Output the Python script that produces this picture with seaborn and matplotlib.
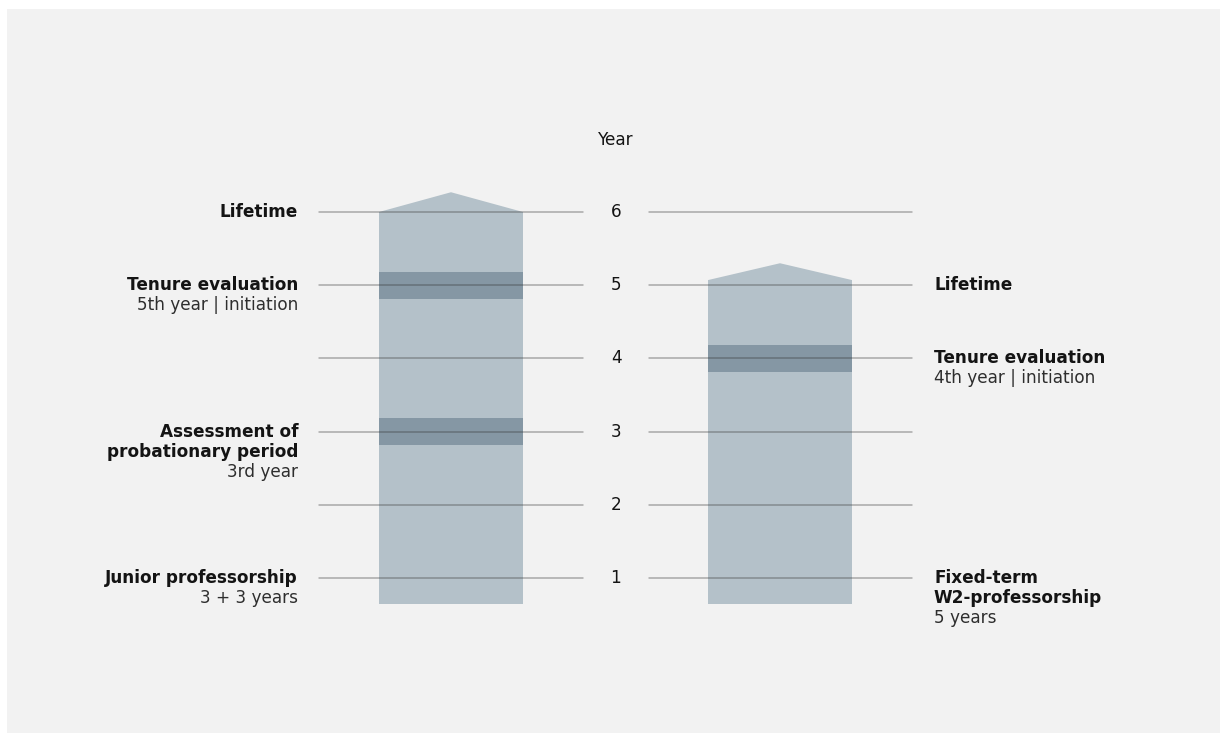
import numpy as np
import matplotlib
matplotlib.use('Agg')
import matplotlib.pyplot as plt
import matplotlib.patches as mpatches
import seaborn as sns

# --- data ---
years = [1, 2, 3, 4, 5, 6]
bar_start = [0.65, 0.65]          # both tracks begin just below year 1
bar_end = [6.0, 5.07]             # top of the rectangular part
cap_peak = [6.27, 5.30]           # tip of the arrow cap
eval_years_left = [5, 3]
eval_years_right = [4]
band_half = 0.185

left_labels = [
    (6, ['Lifetime'], []),
    (5, ['Tenure evaluation'], ['5th year | initiation']),
    (3, ['Assessment of', 'probationary period'], ['3rd year']),
    (1, ['Junior professorship'], ['3 + 3 years']),
]
right_labels = [
    (5, ['Lifetime'], []),
    (4, ['Tenure evaluation'], ['4th year | initiation']),
    (1, ['Fixed-term', 'W2-professorship'], ['5 years']),
]

# --- style ---
sns.set_theme(style='white')
plt.rcParams['font.family'] = ['DejaVu Sans']

BG = '#f2f2f2'
BAR = '#b4c1c9'
BAND = '#8597a4'
TXT = '#141414'
SUB = '#2e2e2e'
FS = 12.2

W, H = 1220, 733
fig = plt.figure(figsize=(W / 100, H / 100), dpi=100)
fig.patch.set_facecolor('white')

ax = fig.add_axes([0, 0, 1, 1])
ax.set_facecolor('none')
# y in years: year 6 sits at pixel 212, 73.2 px per year
px = 73.2
ax.set_xlim(0, W)
ax.set_ylim(6 - (H - 212) / px, 6 + 212 / px)
ax.axis('off')

# grey panel
ax.add_patch(mpatches.Rectangle((7 / W, 0), 1, (H - 9) / H,
                                transform=ax.transAxes, facecolor=BG,
                                edgecolor='none', zorder=0, clip_on=False))

centers = [451, 780]
bw = 144

# bars
heights = [e - s for s, e in zip(bar_start, bar_end)]
ax.bar(centers, heights, bottom=bar_start, width=bw, color=BAR,
       edgecolor='none', zorder=2)
for c, e, p in zip(centers, bar_end, cap_peak):
    ax.fill([c - bw / 2, c, c + bw / 2], [e, p, e], color=BAR,
            edgecolor='none', zorder=2)

# evaluation bands
for yv in eval_years_left:
    ax.bar(centers[0], 2 * band_half, bottom=yv - band_half, width=bw,
           color=BAND, edgecolor='none', zorder=3)
for yv in eval_years_right:
    ax.bar(centers[1], 2 * band_half, bottom=yv - band_half, width=bw,
           color=BAND, edgecolor='none', zorder=3)

# grid lines and year labels
for yv in years:
    ax.plot([319, 583], [yv, yv], color='#333333', alpha=0.38, lw=1.1, zorder=4)
    ax.plot([649, 912], [yv, yv], color='#333333', alpha=0.38, lw=1.1, zorder=4)
    ax.text(616, yv, str(yv), ha='center', va='center', fontsize=FS,
            color=TXT, zorder=5)
ax.text(616, 6 + (212 - 140) / px, 'Year', ha='center', va='center',
        fontsize=FS, color=TXT, zorder=5)

step = 14.4  # points between text lines


def put_labels(items, x, ha):
    for yv, bold_lines, reg_lines in items:
        k = 0
        for t in bold_lines:
            ax.annotate(t, (x, yv), xytext=(0, -k * step),
                        textcoords='offset points', ha=ha, va='center',
                        fontsize=FS, fontweight='bold', color=TXT, zorder=5)
            k += 1
        for t in reg_lines:
            ax.annotate(t, (x, yv), xytext=(0, -k * step),
                        textcoords='offset points', ha=ha, va='center',
                        fontsize=FS, color=SUB, zorder=5)
            k += 1


put_labels(left_labels, 298, 'right')
put_labels(right_labels, 934, 'left')

fig.savefig('out.png', dpi=100, facecolor=fig.get_facecolor())
